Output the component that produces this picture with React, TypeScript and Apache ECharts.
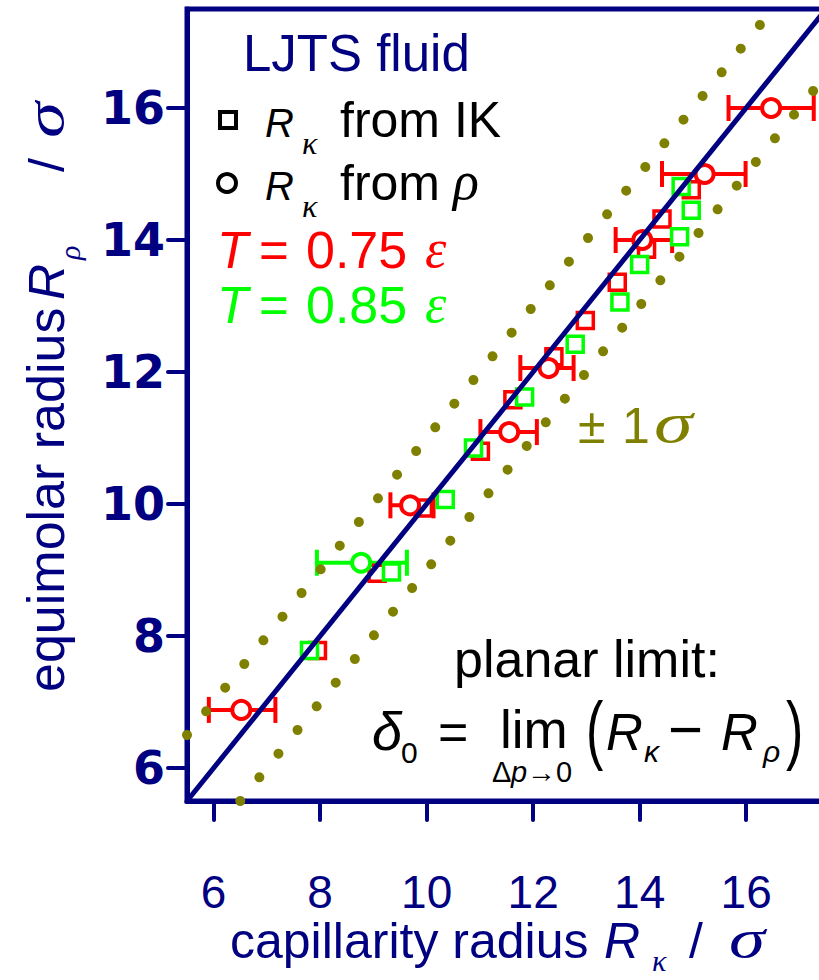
import React, { useEffect, useRef } from "react";
import * as echarts from "echarts";

// ---------- data ----------
const axisMin = 5.5;
const axisMax = 17.5;
const xTicks = [6, 8, 10, 12, 14, 16];
const yTicks = [6, 8, 10, 12, 14, 16];

// R_kappa from IK, T = 0.75
const redSqX = [7.95, 9.07, 9.94, 11.01, 11.62, 12.39, 12.98, 13.58, 14.13, 14.42, 14.97];
const redSqY = [7.78, 8.95, 9.94, 10.8, 11.58, 12.23, 12.78, 13.36, 13.86, 14.32, 14.76];
// R_kappa from IK, T = 0.85
const greenSqX = [7.8, 9.34, 10.35, 10.88, 11.84, 12.79, 13.63, 14.0, 14.75, 14.97, 14.78];
const greenSqY = [7.78, 8.97, 10.07, 10.85, 11.62, 12.42, 13.06, 13.63, 14.05, 14.45, 14.81];
// R_kappa from rho, T = 0.75 (with x error range)
const redCircX = [6.52, 9.69, 11.55, 12.29, 14.05, 15.22, 16.47];
const redCircY = [6.88, 9.98, 11.09, 12.06, 14.0, 15.0, 16.0];
const redCircLo = [5.91, 9.32, 11.01, 11.76, 13.55, 14.42, 15.67];
const redCircHi = [7.16, 10.13, 12.07, 12.76, 14.61, 15.99, 17.27];
// R_kappa from rho, T = 0.85
const greenCircX = [8.77];
const greenCircY = [9.11];
const greenCircLo = [7.94];
const greenCircHi = [9.63];
// reference lines
const diagonalLine = [[5.5, 5.5], [17.5, 17.5]];
const upperBand = [[5.5, 6.5], [16.5, 17.5]];
const lowerBand = [[6.5, 5.5], [17.5, 16.5]];

// ---------- styles ----------
const NAVY = "#000080";
const RED = "#ff0000";
const GREEN = "#00ff00";
const OLIVE = "#808000";
const SANS = '"Liberation Sans", Arial, sans-serif';
const SERIF = '"Liberation Serif", "Times New Roman", serif';

const zip = (xs: number[], ys: number[]) => xs.map((x, i) => [x, ys[i]]);
const zipErr = (xs: number[], ys: number[], lo: number[], hi: number[]) =>
  xs.map((x, i) => [x, ys[i], lo[i], hi[i]]);

type TxtOpt = {
  family?: string;
  italic?: boolean;
  scaleX?: number;
  scaleY?: number;
  lineHeight?: number;
};

function txt(text: string, x: number, base: number, size: number, fill: string, o: TxtOpt = {}) {
  return {
    type: "text",
    x,
    y: base - 0.35 * size,
    scaleX: o.scaleX ?? 1,
    scaleY: o.scaleY ?? 1,
    silent: true,
    style: {
      text,
      fontSize: size,
      fontFamily: o.family ?? SANS,
      fontStyle: o.italic ? "italic" : "normal",
      fill,
      align: "left",
      verticalAlign: "middle",
      ...(o.lineHeight ? { lineHeight: o.lineHeight } : {}),
    },
  };
}

const IT = { italic: true };
const SERIF_IT = { italic: true, family: SERIF };

function errRender(color: string) {
  return (_params: any, api: any) => {
    const y = api.value(1);
    const p0 = api.coord([api.value(2), y]);
    const p1 = api.coord([api.value(3), y]);
    const h = 13;
    const style = { stroke: color, lineWidth: 4, fill: "none" };
    return {
      type: "group",
      children: [
        { type: "line", shape: { x1: p0[0], y1: p0[1], x2: p1[0], y2: p1[1] }, style },
        { type: "line", shape: { x1: p0[0], y1: p0[1] - h, x2: p0[0], y2: p0[1] + h }, style },
        { type: "line", shape: { x1: p1[0], y1: p1[1] - h, x2: p1[0], y2: p1[1] + h }, style },
      ],
    };
  };
}

export default function App() {
  const ref = useRef<HTMLDivElement>(null);

  useEffect(() => {
    document.body.style.margin = "0";
    if (!ref.current) return;
    const chart = echarts.init(ref.current, undefined, { renderer: "svg" });

    const squareStyle = (c: string) => ({
      color: "#ffffff",
      borderColor: c,
      borderWidth: 3.5,
      opacity: 1,
    });

    const yTitle = {
      type: "group",
      x: 64,
      y: 692,
      rotation: Math.PI / 2,
      children: [
        txt("equimolar radius", 0, 0, 52, NAVY),
        txt("R", 392, 0, 50, NAVY, IT),
        txt("ρ", 432, 16, 30, NAVY, SERIF_IT),
        txt("/", 520, 0, 50, NAVY),
        txt("σ", 554, 0, 54, NAVY, { ...SERIF_IT, scaleX: 1.35 }),
      ],
    };

    const option: any = {
      animation: false,
      backgroundColor: "#ffffff",
      grid: {
        left: 187,
        top: 9,
        width: 639,
        height: 792,
        show: true,
        borderColor: NAVY,
        borderWidth: 5,
        backgroundColor: "transparent",
        containLabel: false,
        outerBoundsMode: "none",
      },
      xAxis: {
        type: "value",
        min: axisMin,
        max: axisMax,
        splitLine: { show: false },
        axisLine: { show: true, lineStyle: { color: NAVY, width: 5 } },
        axisTick: {
          show: true,
          length: 19,
          customValues: xTicks,
          lineStyle: { color: NAVY, width: 4, cap: "round" },
        },
        axisLabel: {
          customValues: xTicks,
          fontSize: 46,
          fontFamily: SANS,
          color: NAVY,
          margin: 73,
          lineHeight: 36,
        },
      },
      yAxis: {
        type: "value",
        min: axisMin,
        max: axisMax,
        splitLine: { show: false },
        axisLine: { show: true, lineStyle: { color: NAVY, width: 5 } },
        axisTick: {
          show: true,
          length: 19,
          customValues: yTicks,
          lineStyle: { color: NAVY, width: 4, cap: "round" },
        },
        axisLabel: {
          customValues: yTicks,
          fontSize: 46,
          fontFamily: '"DejaVu Sans", sans-serif',
          fontWeight: "bold",
          color: NAVY,
          margin: 22,
        },
      },
      series: [
        {
          type: "line",
          data: upperBand,
          symbol: "none",
          clip: false,
          lineStyle: { color: OLIVE, width: 10, type: [0.01, 30.4], cap: "round" },
        },
        {
          type: "line",
          data: lowerBand,
          symbol: "none",
          clip: false,
          lineStyle: { color: OLIVE, width: 10, type: [0.01, 30.4], cap: "round" },
        },
        {
          type: "line",
          data: diagonalLine,
          symbol: "none",
          clip: true,
          lineStyle: { color: NAVY, width: 5 },
        },
        {
          type: "scatter",
          data: zip(redSqX, redSqY),
          symbol: "rect",
          symbolSize: 16,
          itemStyle: squareStyle(RED),
        },
        {
          type: "scatter",
          data: zip(greenSqX, greenSqY),
          symbol: "rect",
          symbolSize: 16,
          itemStyle: squareStyle(GREEN),
        },
        {
          type: "custom",
          data: zipErr(redCircX, redCircY, redCircLo, redCircHi),
          encode: { x: [0, 2, 3], y: 1 },
          renderItem: errRender(RED),
          clip: false,
        },
        {
          type: "custom",
          data: zipErr(greenCircX, greenCircY, greenCircLo, greenCircHi),
          encode: { x: [0, 2, 3], y: 1 },
          renderItem: errRender(GREEN),
          clip: false,
        },
        {
          type: "scatter",
          data: zip(redCircX, redCircY),
          symbol: "circle",
          symbolSize: 18,
          itemStyle: { color: "#ffffff", borderColor: RED, borderWidth: 4, opacity: 1 },
        },
        {
          type: "scatter",
          data: zip(greenCircX, greenCircY),
          symbol: "circle",
          symbolSize: 18,
          itemStyle: { color: "#ffffff", borderColor: GREEN, borderWidth: 4, opacity: 1 },
        },
      ],
      graphic: [
        txt("LJTS fluid", 243, 71, 51, NAVY),
        // legend keys
        {
          type: "rect",
          silent: true,
          shape: { x: 220, y: 112, width: 16, height: 16 },
          style: { fill: "#ffffff", stroke: "#000000", lineWidth: 4 },
        },
        {
          type: "circle",
          silent: true,
          shape: { cx: 227, cy: 183, r: 9 },
          style: { fill: "#ffffff", stroke: "#000000", lineWidth: 4 },
        },
        txt("R", 265, 137, 40, "#000", IT),
        txt("κ", 302, 154, 32, "#000", SERIF_IT),
        txt("from IK", 340, 137, 50, "#000"),
        txt("R", 265, 200, 40, "#000", IT),
        txt("κ", 302, 217, 32, "#000", SERIF_IT),
        txt("from", 340, 200, 50, "#000"),
        txt("ρ", 453, 200, 54, "#000", SERIF_IT),
        txt("T", 217, 268, 51, RED, IT),
        txt("=", 259, 268, 51, RED),
        txt("0.75", 306, 268, 52, RED),
        txt("ε", 425, 268, 54, RED, SERIF_IT),
        txt("T", 217, 323, 51, GREEN, IT),
        txt("=", 259, 323, 51, GREEN),
        txt("0.85", 306, 323, 52, GREEN),
        txt("ε", 425, 323, 54, GREEN, SERIF_IT),
        // band label
        txt("±", 578, 443, 50, OLIVE),
        txt("1", 622, 443, 50, OLIVE),
        txt("σ", 654, 443, 56, OLIVE, { ...SERIF_IT, scaleX: 1.4 }),
        // planar limit
        txt("planar limit:", 454, 677, 52, "#000"),
        txt("δ", 372, 750, 54, "#000", IT),
        txt("0", 401, 763, 30, "#000"),
        txt("=", 438, 750, 52, "#000"),
        txt("lim", 500, 748, 53, "#000", { lineHeight: 40 }),
        txt("Δ", 492, 782, 29, "#000", { lineHeight: 24 }),
        txt("p", 511, 782, 29, "#000", { italic: true, lineHeight: 24 }),
        txt("→0", 527, 782, 29, "#000", { lineHeight: 24 }),
        txt("(", 586, 747, 52, "#000", { scaleY: 1.45, lineHeight: 40 }),
        txt("R", 606, 750, 51, "#000", { italic: true, lineHeight: 44 }),
        txt("κ", 644, 762, 30, "#000", IT),
        txt("−", 668, 750, 60, "#000", { lineHeight: 40 }),
        txt("R", 721, 750, 51, "#000", { italic: true, lineHeight: 44 }),
        txt("ρ", 763, 762, 30, "#000", IT),
        txt(")", 786, 747, 52, "#000", { scaleY: 1.45, lineHeight: 40 }),
        // x axis title
        txt("capillarity radius", 230, 958, 50, NAVY, { lineHeight: 38 }),
        txt("R", 604, 958, 50, NAVY, { italic: true, lineHeight: 38 }),
        txt("κ", 652, 971, 30, NAVY, { ...SERIF_IT, lineHeight: 22 }),
        txt("/", 689, 958, 50, NAVY, { lineHeight: 38 }),
        txt("σ", 729, 958, 54, NAVY, { ...SERIF_IT, scaleX: 1.35, lineHeight: 38 }),
        // y axis title
        yTitle,
      ],
    };

    chart.setOption(option);
    return () => chart.dispose();
  }, []);

  return <div ref={ref} style={{ width: 819, height: 980 }} />;
}
